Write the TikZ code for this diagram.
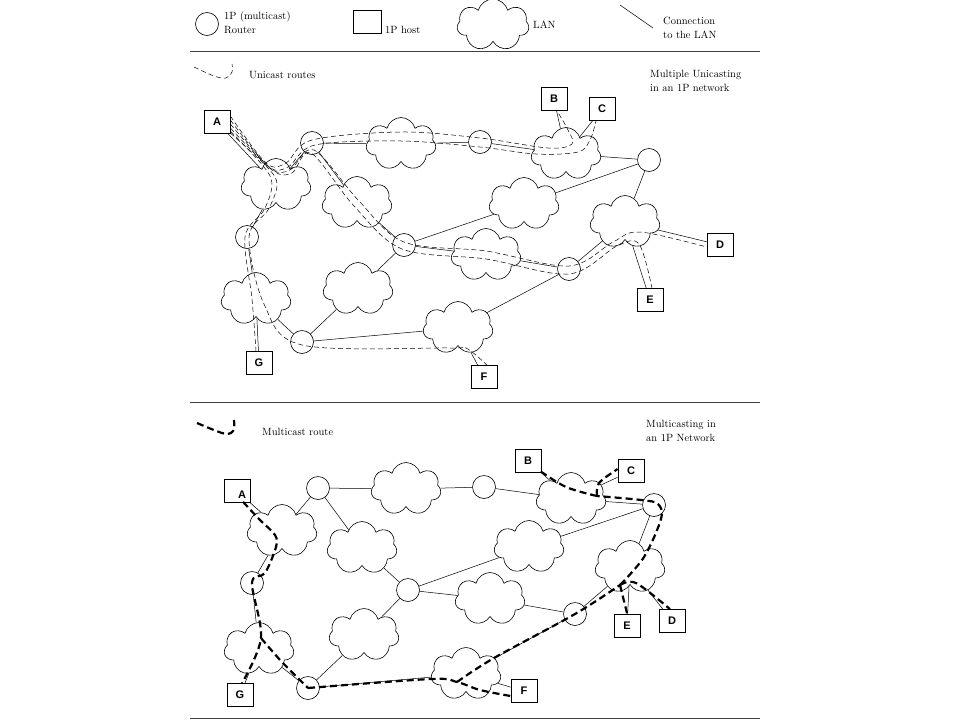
\documentclass[tikz,border=0pt]{standalone}
\usepackage{fontspec}
\newfontfamily\hostfont{Liberation Sans}
\usetikzlibrary{shapes.symbols,calc}
\begin{document}
\begin{tikzpicture}[x=1pt,y=-1pt,
  every node/.style={inner sep=0pt},
  router/.style={circle,draw,minimum size=23pt,line width=0.6pt},
  host/.style={rectangle,draw,minimum width=26pt,minimum height=23pt,line width=0.7pt,
    font=\hostfont\bfseries\fontsize{11}{11}\selectfont},
  lan/.style={cloud,draw,cloud puffs=7,cloud puff arc=150,aspect=1,
    minimum width=70pt,minimum height=53pt,line width=0.6pt},
  link/.style={line width=0.5pt},
  rule/.style={line width=1pt,draw=black!75},
  uroute/.style={line width=0.5pt,dash pattern=on 5pt off 3pt},
  mroute/.style={line width=2.2pt,dash pattern=on 7pt off 4pt},
  txt/.style={font=\fontsize{10.5}{14}\selectfont,anchor=west,align=left},
]
\useasboundingbox (0,0) rectangle (960,720);

% ---------------- legend ----------------
\node[router] (legR) at (207,24) {};
\node[txt] (legRt) at (224,23) {1P (multicast)\\Router};
\node[host,minimum width=28pt] (legH) at (367,22) {};
\node[txt] (legHt) at (385,30) {1P host};
\node[lan,minimum width=72pt,minimum height=52pt] (legL) at (493,25) {};
\node[txt] (legLt) at (533,25) {LAN};
\coordinate (legC1) at (620,5);
\coordinate (legC2) at (653,28);
\draw[link] (legC1) -- (legC2);
\node[txt] (legCt) at (663,28) {Connection\\to the LAN};
\coordinate (rule1a) at (190,51); \coordinate (rule1b) at (760,51);
\draw[rule] (rule1a) -- (rule1b);

% ---------------- upper network ----------------
\coordinate (uleg) at (194,67);
\draw[uroute] plot[smooth,tension=0.6] coordinates {(uleg) ($(uleg)+(20,9)$) ($(uleg)+(32,11)$) ($(uleg)+(38,5)$) ($(uleg)+(38,-3)$)};
\node[txt] (ulegt) at (249,75) {Unicast routes};
\node[txt] (utitle) at (650,81) {Multiple Unicasting\\in an 1P network};

\node[host] (uA) at (217,122) {A};
\node[host] (uB) at (554,99) {B};
\node[host] (uC) at (602,109) {C};
\node[host] (uD) at (720,245) {D};
\node[host] (uE) at (650,300) {E};
\node[host] (uF) at (484,377) {F};
\node[host] (uG) at (259,363) {G};

\node[router] (uR1) at (312,143) {};
\node[router] (uR2) at (480,142) {};
\node[router] (uR3) at (649,160) {};
\node[router] (uR4) at (247,237) {};
\node[router] (uR5) at (404,245) {};
\node[router] (uR6) at (569,269) {};
\node[router] (uR7) at (302,342) {};

\node[lan] (uL1) at (276,185) {};
\node[lan] (uL2) at (401,144) {};
\node[lan] (uL3) at (566,154) {};
\node[lan] (uL4) at (357,203) {};
\node[lan] (uL5) at (524,204) {};
\node[lan] (uL6) at (625,222) {};
\node[lan] (uL7) at (486,255) {};
\node[lan] (uL8) at (256,299) {};
\node[lan] (uL9) at (358,289) {};
\node[lan] (uL10) at (458,328) {};

% ---------------- lower network ----------------
\coordinate (rule2a) at (190,402); \coordinate (rule2b) at (760,402);
\draw[rule] (rule2a) -- (rule2b);
\coordinate (mleg) at (197,423);
\draw[mroute] plot[smooth,tension=0.6] coordinates {(mleg) ($(mleg)+(25,10)$) ($(mleg)+(34,10)$) ($(mleg)+(37,5)$) ($(mleg)+(37,-3)$)};
\node[txt] (mlegt) at (262,432) {Multicast route};
\node[txt] (mtitle) at (646,431) {Multicasting in\\an 1P Network};

\node[host,label={[font=\hostfont\bfseries\fontsize{11}{11}\selectfont,xshift=5pt,yshift=-4pt]center:A}] (mA) at (237,491) {};
\node[host] (mB) at (528,461) {B};
\node[host] (mC) at (631,471) {C};
\node[host] (mD) at (672,621) {D};
\node[host] (mE) at (627,626) {E};
\node[host] (mF) at (524,691) {F};
\node[host] (mG) at (240,695) {G};

\node[router] (mR1) at (318,488) {};
\node[router] (mR2) at (484,487) {};
\node[router] (mR3) at (654,505) {};
\node[router] (mR4) at (252,583) {};
\node[router] (mR5) at (408,590) {};
\node[router] (mR6) at (575,614) {};
\node[router] (mR7) at (308,688) {};

\node[lan] (mL1) at (282,531) {};
\node[lan] (mL2) at (406,489) {};
\node[lan] (mL3) at (571,499) {};
\node[lan] (mL4) at (362,548) {};
\node[lan] (mL5) at (529,547) {};
\node[lan] (mL6) at (630,567) {};
\node[lan] (mL7) at (490,599) {};
\node[lan] (mL8) at (259,649) {};
\node[lan] (mL9) at (364,635) {};
\node[lan] (mL10) at (466,674) {};

\coordinate (rule3a) at (190,718); \coordinate (rule3b) at (760,718);
\draw[rule] (rule3a) -- (rule3b);

% ---------------- links (both networks) ----------------
\foreach \p in {u,m}{
  \foreach \a/\b in {A/L1,L1/R1,R1/L2,L2/R2,R2/L3,L3/R3,B/L3,C/L3,R1/L4,L4/R5,R5/L5,L5/R3,
                     R3/L6,L6/D,L6/E,R5/L7,L7/R6,R6/L6,R6/L10,L10/F,R7/L10,R7/L9,L9/R5,
                     R7/L8,R4/L8,R4/L1,G/L8}
    \draw[link] (\p\a) -- (\p\b);
}

% ---------------- unicast routes (upper) ----------------
\draw[uroute] plot[smooth,tension=0.55] coordinates {
  ($(uA.east)+(0,-6)$) ($(uL1)+(-10,-22)$) ($(uL1)+(10,-22)$) ($(uR1)+(0,-3)$)
  ($(uL2)+(0,-12)$) ($(uR2)+(0,-4)$) ($(uL3)+(-18,-6)$) ($(uL3)+(6,-10)$)
  ($(uL3)+(2,-24)$) ($(uB.south)+(3,0)$)};
\draw[uroute] plot[smooth,tension=0.55] coordinates {
  ($(uA.east)+(0,-2)$) ($(uL1)+(-8,-19)$) ($(uL1)+(12,-18)$) ($(uR1)+(3,2)$)
  ($(uL2)+(0,-3)$) ($(uR2)+(0,5)$) ($(uL3)+(-30,0)$) ($(uL3)+(12,-2)$)
  ($(uL3)+(24,-14)$) ($(uC.south)+(-6,0)$)};
\draw[uroute] plot[smooth,tension=0.55] coordinates {
  ($(uA.east)+(0,2)$) ($(uL1)+(-6,-17)$) ($(uL1)+(14,-15)$) ($(uR1)+(2,7)$)
  ($(uL4)+(2,-2)$) ($(uR5)+(0,-3)$) ($(uL7)+(0,-4)$) ($(uR6)+(0,-3)$)
  ($(uL6)+(-12,20)$) ($(uL6)+(15,10)$) ($(uD.west)+(0,2)$)};
\draw[uroute] plot[smooth,tension=0.55] coordinates {
  ($(uA.east)+(0,6)$) ($(uL1)+(-4,-15)$) ($(uL1)+(16,-12)$) ($(uR1)+(-1,10)$)
  ($(uL4)+(-3,3)$) ($(uR5)+(-2,4)$) ($(uL7)+(0,4)$) ($(uR6)+(0,5)$)
  ($(uL6)+(-8,24)$) ($(uL6)+(14,22)$) ($(uE.north)+(2,0)$)};
\draw[uroute] plot[smooth,tension=0.55] coordinates {
  ($(uA.east)+(0,9)$) ($(uL1)+(-12,-18)$) ($(uL1)+(-4,0)$) ($(uL1)+(-12,25)$)
  ($(uR4)+(-2,0)$) ($(uL8)+(-4,0)$) ($(uG.north)+(-3,0)$)};
\draw[uroute] plot[smooth,tension=0.55] coordinates {
  ($(uA.east)+(0,11)$) ($(uL1)+(-8,-17)$) ($(uL1)+(1,0)$) ($(uL1)+(-8,25)$)
  ($(uR4)+(2,0)$) ($(uL8)+(8,5)$) ($(uR7)+(0,3)$) ($(uL10)+(-10,20)$)
  ($(uL10)+(8,20)$) ($(uF.north)+(3,0)$)};

% ---------------- multicast tree (lower) ----------------
\coordinate (mJ8) at ($(mL8)+(2,-11)$);
\coordinate (mJ10) at ($(mL10)+(-9,8)$);
\coordinate (mJ6) at ($(mL6)+(-10,18)$);
\coordinate (mJ3) at ($(mL3)+(26,-3)$);
\draw[mroute] plot[smooth,tension=0.55] coordinates {
  ($(mA.south)+(6,-1)$) ($(mL1)+(-22,-11)$) ($(mL1)+(-7,4)$) ($(mL1)+(-6,16)$)
  ($(mL1)+(-17,42)$) (mR4) (mJ8) ($(mG.north)+(2,0)$)};
\draw[mroute] plot[smooth,tension=0.55] coordinates {
  (mJ8) ($(mL8)+(22,12)$) (mR7)};
\draw[mroute] plot[smooth,tension=0.55] coordinates {
  (mR7) ($(mL10)+(-35,5)$) (mJ10) ($(mL10)+(14,16)$) ($(mF.west)+(0,5)$)};
\draw[mroute] plot[smooth,tension=0.55] coordinates {
  (mJ10) ($(mL10)+(28,-16)$) (mR6) (mJ6)};
\draw[mroute] (mJ6) -- ($(mE.north)+(0,-1)$);
\draw[mroute] plot[smooth,tension=0.55] coordinates {
  (mJ6) ($(mL6)+(6,16)$) ($(mD.north)+(-2,0)$)};
\draw[mroute] plot[smooth,tension=0.55] coordinates {
  (mJ6) ($(mL6)+(14,-10)$) ($(mR3)+(7,14)$) ($(mR3)+(4,-1)$) ($(mR3)+(-13,-5)$) (mJ3)};
\draw[mroute] plot[smooth,tension=0.55] coordinates {
  (mJ3) ($(mL3)+(-5,-12)$) ($(mB.south east)+(-3,-3)$)};
\draw[mroute] plot[smooth,tension=0.55] coordinates {
  (mJ3) ($(mL3)+(28,-16)$) ($(mC.west)+(0,-2)$)};
\end{tikzpicture}
\end{document}
